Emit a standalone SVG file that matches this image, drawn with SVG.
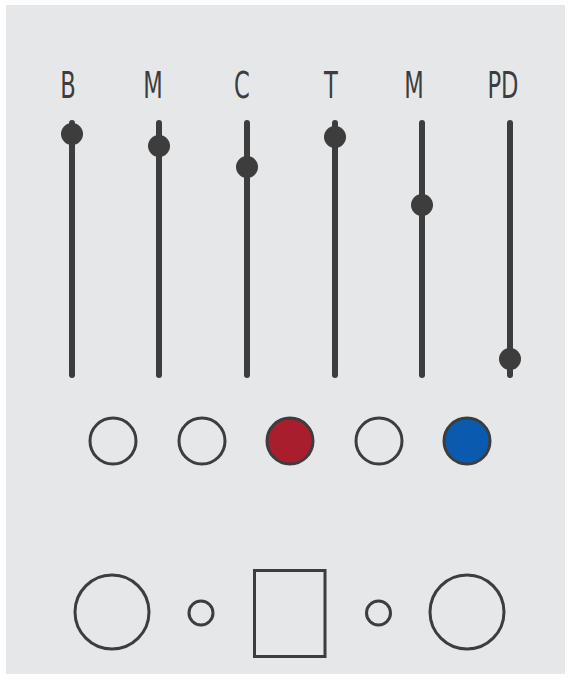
<svg xmlns="http://www.w3.org/2000/svg" width="571" height="679" viewBox="0 0 571 679">
<style>
.lbl{font-family:"DejaVu Sans Condensed","Liberation Sans Narrow","Liberation Sans",sans-serif;font-size:37px;fill:#3d3d3d;text-anchor:middle}
.track{stroke:#3d3d3d;stroke-width:6;stroke-linecap:round}
.knob{fill:#3d3d3d}
.led{stroke:#3d3d3d;stroke-width:3;fill:none}
.out{stroke:#3d3d3d;stroke-width:3;fill:none}
</style>
<rect x="6" y="5" width="559" height="669" fill="#e6e7e9"/>
<g id="slider-B"><text class="lbl" transform="translate(68,98) scale(0.68,1)">B</text><line class="track" x1="72" y1="123" x2="72" y2="375"/><circle class="knob" cx="72" cy="134" r="11"/></g>
<g id="slider-M1"><text class="lbl" transform="translate(153,98) scale(0.68,1)">M</text><line class="track" x1="159" y1="123" x2="159" y2="375"/><circle class="knob" cx="159" cy="146" r="11"/></g>
<g id="slider-C"><text class="lbl" transform="translate(242,98) scale(0.68,1)">C</text><line class="track" x1="247" y1="123" x2="247" y2="375"/><circle class="knob" cx="247" cy="167" r="11"/></g>
<g id="slider-T"><text class="lbl" transform="translate(331,98) scale(0.68,1)">T</text><line class="track" x1="335" y1="123" x2="335" y2="375"/><circle class="knob" cx="335" cy="137" r="11"/></g>
<g id="slider-M2"><text class="lbl" transform="translate(414,98) scale(0.68,1)">M</text><line class="track" x1="422" y1="123" x2="422" y2="375"/><circle class="knob" cx="422" cy="205" r="11"/></g>
<g id="slider-PD"><text class="lbl" transform="translate(503,98) scale(0.68,1)">PD</text><line class="track" x1="510" y1="123" x2="510" y2="375"/><circle class="knob" cx="510" cy="359" r="11"/></g>
<g id="led1"><circle class="led" cx="113" cy="441" r="23"/></g>
<g id="led2"><circle class="led" cx="202" cy="441" r="23"/></g>
<g id="led3"><circle class="led" cx="290" cy="441" r="23" style="fill:#a91e2c"/></g>
<g id="led4"><circle class="led" cx="379" cy="441" r="23"/></g>
<g id="led5"><circle class="led" cx="467" cy="441" r="23" style="fill:#0a5bb0"/></g>
<g id="jack-left"><circle class="out" cx="112" cy="612" r="37"/></g>
<g id="btn-left"><circle class="out" cx="201" cy="613" r="12"/></g>
<g id="square"><rect class="out" x="254.5" y="570.5" width="70.5" height="86"/></g>
<g id="btn-right"><circle class="out" cx="378.5" cy="613" r="12"/></g>
<g id="jack-right"><circle class="out" cx="467" cy="612" r="37"/></g>
</svg>
